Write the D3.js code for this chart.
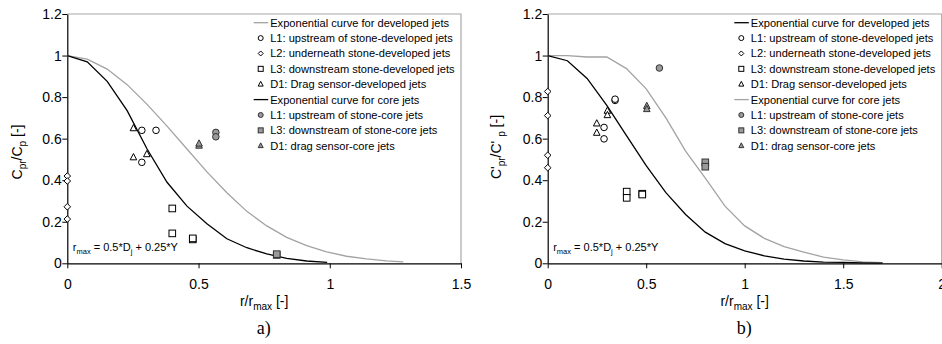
<!DOCTYPE html>
<html><head><meta charset="utf-8">
<script src="https://cdn.jsdelivr.net/npm/d3@7/dist/d3.min.js"></script>
<style>body{margin:0;background:#fff}svg{display:block}text{font-family:"Liberation Sans",Arial,sans-serif}text.serif{font-family:"Liberation Serif","Times New Roman",serif}</style>
</head><body>
<svg id="c" width="942" height="344"></svg>
<script>
// ---------- DATA ----------
const xTicksA = [0, 0.5, 1, 1.5];
const xTicksB = [0, 0.5, 1, 1.5, 2];
const yTicks = [0, 0.2, 0.4, 0.6, 0.8, 1, 1.2];

// panel a) curves
const curveDevA_x = [0,0.076,0.152,0.228,0.304,0.38,0.456,0.532,0.608,0.684,0.76,0.836,0.912,0.988,1.064,1.14,1.216,1.28];
const curveDevA_y = [1,0.983,0.935,0.86,0.765,0.66,0.55,0.44,0.34,0.25,0.18,0.125,0.085,0.055,0.034,0.021,0.012,0.007];
const curveCoreA_x = [0,0.076,0.152,0.228,0.304,0.38,0.456,0.532,0.608,0.684,0.76,0.836,0.912,0.99];
const curveCoreA_y = [1,0.97,0.876,0.735,0.55,0.39,0.275,0.19,0.118,0.075,0.045,0.024,0.011,0.004];
// panel a) points [x,y]
const L1devA = [[0.284,0.64],[0.284,0.486],[0.338,0.64]];
const L2devA = [[0,0.42],[0,0.396],[0,0.272],[0,0.213]];
const L3devA = [[0.4,0.264],[0.4,0.144],[0.478,0.115],[0.478,0.12]];
const D1devA = [[0.252,0.65],[0.252,0.51],[0.303,0.525]];
const L1coreA = [[0.566,0.63],[0.566,0.609]];
const L3coreA = [[0.798,0.04],[0.798,0.044]];
const D1coreA = [[0.502,0.566],[0.502,0.576]];

// panel b) curves
const curveDevB_x = [0,0.1,0.2,0.3,0.4,0.5,0.6,0.7,0.8,0.9,1.0,1.1,1.2,1.3,1.4,1.5,1.6,1.7];
const curveDevB_y = [1,0.975,0.89,0.76,0.615,0.47,0.34,0.235,0.15,0.095,0.06,0.036,0.02,0.011,0.006,0.004,0.002,0.001];
const curveCoreB_x = [0,0.1,0.2,0.3,0.4,0.5,0.6,0.7,0.8,0.9,1.0,1.1,1.2,1.3,1.4,1.5,1.6,1.7];
const curveCoreB_y = [1,1,0.993,0.993,0.937,0.84,0.7,0.54,0.41,0.275,0.18,0.12,0.08,0.054,0.03,0.016,0.007,0.003];
// panel b) points
const L1devB = [[0.286,0.654],[0.286,0.599],[0.342,0.784],[0.342,0.79]];
const L2devB = [[0,0.827],[0,0.711],[0,0.52],[0,0.46]];
const L3devB = [[0.401,0.345],[0.401,0.315],[0.48,0.335],[0.48,0.331]];
const D1devB = [[0.249,0.673],[0.249,0.628],[0.303,0.734],[0.303,0.713]];
const L1coreB = [[0.567,0.94]];
const L3coreB = [[0.8,0.486],[0.8,0.465]];
const D1coreB = [[0.503,0.757],[0.503,0.742]];

const legendLabels = [
  "Exponential curve for developed jets",
  "L1: upstream of stone-developed jets",
  "L2: underneath stone-developed jets",
  "L3: downstream stone-developed jets",
  "D1: Drag sensor-developed jets",
  "Exponential curve for core jets",
  "L1: upstream of stone-core jets",
  "L3: downstream of stone-core jets",
  "D1: drag sensor-core jets"
];

// ---------- DRAW ----------
const svg = d3.select("#c");
const GRAY = "#a3a3a3", FILL = "#9a9a9a";

function marker(g, type, filled, x, y, s) {
  const fill = filled ? FILL : "#fff";
  const stroke = filled ? "#333" : "#000";
  let el;
  if (type === "circle") el = g.append("circle").attr("cx", x).attr("cy", y).attr("r", s);
  else if (type === "square") el = g.append("rect").attr("x", x - s).attr("y", y - s).attr("width", 2 * s).attr("height", 2 * s);
  else if (type === "diamond") el = g.append("path").attr("d", `M${x},${y - s}L${x + s},${y}L${x},${y + s}L${x - s},${y}Z`);
  else if (type === "triangle") el = g.append("path").attr("d", `M${x},${y - s * 1.15}L${x + s},${y + s * 0.75}L${x - s},${y + s * 0.75}Z`);
  el.attr("fill", fill).attr("stroke", stroke).attr("stroke-width", 1);
}

function panel(cfg) {
  const x = d3.scaleLinear().domain([0, cfg.xmax]).range([cfg.x0, cfg.x1]);
  const y = d3.scaleLinear().domain([0, 1.2]).range([263.3, 14]);
  const g = svg.append("g");

  // frame top/right
  g.append("path").attr("d", `M${x(0)},${y(1.2)}H${x(cfg.xmax)}V${y(0)}`)
    .attr("fill", "none").attr("stroke", "#a8a8a8").attr("stroke-width", 1.2);

  // axes
  const ax = g.append("g").attr("transform", `translate(0,${y(0)})`)
    .call(d3.axisBottom(x).tickValues(cfg.xTicks).tickSize(5).tickSizeOuter(0).tickFormat(d3.format("~g")));
  const ay = g.append("g").attr("transform", `translate(${x(0)},0)`)
    .call(d3.axisLeft(y).tickValues(yTicks).tickSize(5).tickSizeOuter(0).tickFormat(d3.format("~g")));
  [ax, ay].forEach(a => {
    a.select(".domain").attr("stroke", "#000").attr("stroke-width", 1.2);
    a.selectAll(".tick line").attr("stroke", "#000");
    a.selectAll(".tick text").attr("font-size", 14).attr("fill", "#000");
  });
  ax.selectAll(".tick text").attr("dy", "1.25em");
  ay.selectAll(".tick text").attr("x", -5.5);

  const line = d3.line().x(d => x(d[0])).y(d => y(d[1]));
  // curves
  cfg.curves.forEach(c => {
    const pts = c.xs.map((v, i) => [v, c.ys[i]]);
    g.append("path").attr("d", line(pts)).attr("fill", "none")
      .attr("stroke", c.color).attr("stroke-width", 1.3);
  });
  // points
  cfg.points.forEach(p => {
    p.data.forEach(d => marker(g, p.type, p.filled, x(d[0]), y(d[1]), 3.3));
  });

  // legend
  const lg = g.append("g");
  const items = [
    {kind: "line", color: cfg.devColor},
    {kind: "m", type: "circle", filled: false},
    {kind: "m", type: "diamond", filled: false},
    {kind: "m", type: "square", filled: false},
    {kind: "m", type: "triangle", filled: false},
    {kind: "line", color: cfg.coreColor},
    {kind: "m", type: "circle", filled: true},
    {kind: "m", type: "square", filled: true},
    {kind: "m", type: "triangle", filled: true}
  ];
  items.forEach((it, i) => {
    const ry = 22.7 + i * 15.38;
    if (it.kind === "line") {
      lg.append("line").attr("x1", cfg.legX - 7).attr("x2", cfg.legX + 7.5).attr("y1", ry).attr("y2", ry)
        .attr("stroke", it.color).attr("stroke-width", 1.3);
    } else {
      marker(lg, it.type, it.filled, cfg.legX, ry, 2.5);
    }
    lg.append("text").attr("x", cfg.legX + 9.5).attr("y", ry).attr("dy", "0.36em")
      .attr("font-size", 11.1).attr("fill", "#000").text(legendLabels[i]);
  });

  // annotation
  const an = g.append("text").attr("x", x(0) + cfg.annDx).attr("y", 251).attr("font-size", 11).attr("fill", "#000");
  an.append("tspan").text("r");
  an.append("tspan").attr("font-size", 7.5).attr("dy", 2.5).text("max");
  an.append("tspan").attr("dy", -2.5).text(" = 0.5*D");
  an.append("tspan").attr("font-size", 7.5).attr("dy", 2.5).text("j");
  an.append("tspan").attr("dy", -2.5).text(" + 0.25*Y");

  // x title
  const xt = g.append("text").attr("x", (x(0) + x(cfg.xmax)) / 2).attr("y", 306).attr("text-anchor", "middle")
    .attr("font-size", 14).attr("fill", "#000");
  xt.append("tspan").text("r/r");
  xt.append("tspan").attr("font-size", 10).attr("dy", 3.5).text("max");
  xt.append("tspan").attr("dy", -3.5).text(" [-]");

  // y title
  const yt = g.append("text").attr("transform", `translate(${cfg.ytX},${cfg.ytY}) rotate(-90)`)
    .attr("text-anchor", "middle").attr("font-size", 14).attr("fill", "#000");
  cfg.yTitle.forEach(t => {
    const ts = yt.append("tspan").text(t.s);
    if (t.sub) ts.attr("font-size", 10).attr("dy", 3.5);
    if (t.back) ts.attr("dy", -3.5);
  });

  // panel label
  svg.append("text").attr("class", "serif").attr("x", (x(0) + x(cfg.xmax)) / 2 - 0.5).attr("y", 334)
    .attr("text-anchor", "middle").attr("font-size", 18).attr("fill", "#000")
    .text(cfg.label);
}

panel({
  x0: 67.3, x1: 461, xmax: 1.5, xTicks: xTicksA,
  devColor: GRAY, coreColor: "#000",
  curves: [{xs: curveDevA_x, ys: curveDevA_y, color: GRAY}, {xs: curveCoreA_x, ys: curveCoreA_y, color: "#000"}],
  points: [
    {data: L2devA, type: "diamond", filled: false},
    {data: L1devA, type: "circle", filled: false},
    {data: L3devA, type: "square", filled: false},
    {data: D1devA, type: "triangle", filled: false},
    {data: L1coreA, type: "circle", filled: true},
    {data: L3coreA, type: "square", filled: true},
    {data: D1coreA, type: "triangle", filled: true}
  ],
  legX: 260.7, annDx: 5.5, ytX: 22, ytY: 152, label: "a)",
  yTitle: [{s: "C"}, {s: "pr", sub: true}, {s: "/C", back: true}, {s: "p", sub: true}, {s: " [-]", back: true}]
});

panel({
  x0: 547.7, x1: 941.7, xmax: 2, xTicks: xTicksB,
  devColor: "#000", coreColor: GRAY,
  curves: [{xs: curveCoreB_x, ys: curveCoreB_y, color: GRAY}, {xs: curveDevB_x, ys: curveDevB_y, color: "#000"}],
  points: [
    {data: L2devB, type: "diamond", filled: false},
    {data: L1devB, type: "circle", filled: false},
    {data: L3devB, type: "square", filled: false},
    {data: D1devB, type: "triangle", filled: false},
    {data: L1coreB, type: "circle", filled: true},
    {data: L3coreB, type: "square", filled: true},
    {data: D1coreB, type: "triangle", filled: true}
  ],
  legX: 741.3, annDx: 5.5, ytX: 501, ytY: 147, label: "b)",
  yTitle: [{s: "C'"}, {s: "pr", sub: true}, {s: "/C' ", back: true}, {s: "p", sub: true}, {s: " [-]", back: true}]
});
</script>
</body></html>
